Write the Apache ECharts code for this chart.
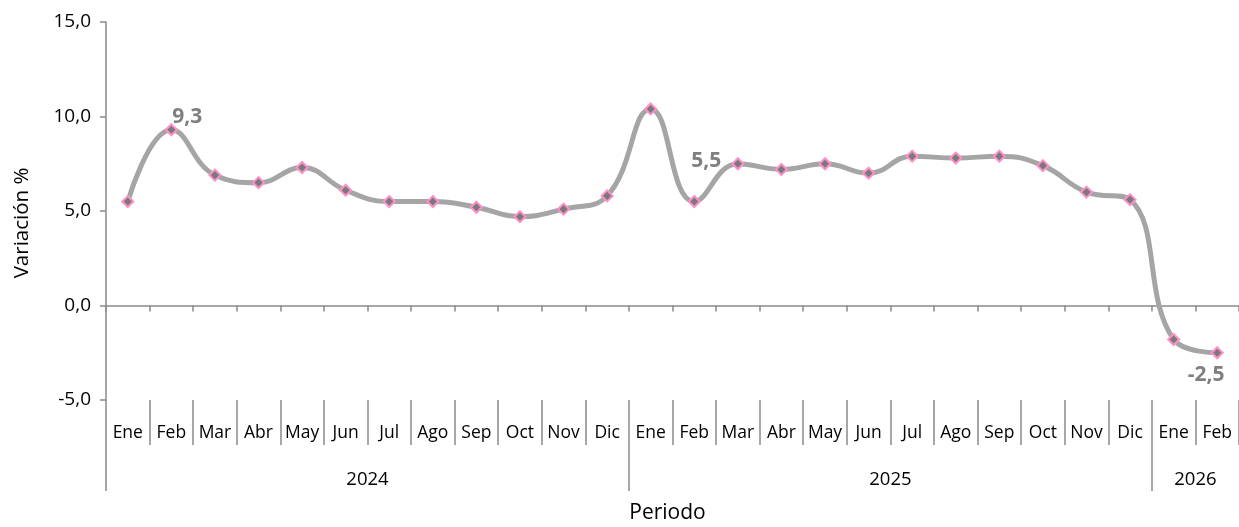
<!DOCTYPE html>
<html lang="es">
<head>
    <meta charset="UTF-8">
    <title>Variación %</title>
    <script src="https://cdn.jsdelivr.net/npm/echarts@6/dist/echarts.min.js"></script>
    <style>
        html, body { margin: 0; padding: 0; background: #fff; }
        #main { width: 1239px; height: 527px; }
    </style>
</head>
<body>
<div id="main"></div>
<script type="text/javascript">
    // datos
    var months = ['Ene','Feb','Mar','Abr','May','Jun','Jul','Ago','Sep','Oct','Nov','Dic',
                  'Ene','Feb','Mar','Abr','May','Jun','Jul','Ago','Sep','Oct','Nov','Dic',
                  'Ene','Feb'];
    var values = [5.5, 9.3, 6.9, 6.5, 7.3, 6.1, 5.5, 5.5, 5.2, 4.7, 5.1, 5.8,
                  10.4, 5.5, 7.5, 7.2, 7.5, 7.0, 7.9, 7.8, 7.9, 7.4, 6.0, 5.6,
                  -1.8, -2.5];
    var years = ['2024', '2025', '2026'];
    var yearStart = [0, 12, 24];   // primer mes de cada año
    var yearLen = [12, 12, 2];
    var labeled = [1, 13, 25];     // puntos con etiqueta
    var yTicks = [-5, 0, 5, 10, 15];

    var font = '"Open Sans", "Noto Sans", sans-serif';
    var axisGray = '#8a8a8a';

    function fmt(v) { return Number(v).toFixed(1).replace('.', ','); }

    // eje de años: media-posiciones (0, 0.5, ... 26)
    var halfSlots = [];
    for (var k = 0; k <= months.length * 2; k++) halfSlots.push(String(k));
    var yearTickSlots = yearStart.map(function (s) { return s * 2; });
    var yearLabelSlots = {};
    years.forEach(function (y, i) { yearLabelSlots[yearStart[i] * 2 + yearLen[i]] = y; });

    var labelOffsets = { 1: ['top', [16, 9]], 13: ['top', [12, -19]], 25: ['bottom', [-11, 0]] };
    var seriesData = values.map(function (v, i) {
        if (labeled.indexOf(i) < 0) return v;
        return {
            value: v,
            label: {
                show: true,
                position: labelOffsets[i][0],
                offset: labelOffsets[i][1],
                formatter: function (p) { return fmt(p.value); },
                color: '#7f7f7f',
                fontWeight: 'bold',
                fontSize: 21,
                fontFamily: font
            }
        };
    });

    var myChart = echarts.init(document.getElementById('main'));
    var option = {
        animation: false,
        grid: { left: 106, right: 0, top: 22, bottom: 127, outerBoundsMode: 'none' },
        xAxis: [
            {
                type: 'category',
                data: months,
                axisLine: { onZero: true, lineStyle: { color: axisGray, width: 1.5 } },
                axisTick: { show: true, interval: 0, length: 6, lineStyle: { color: axisGray, width: 1.5 } },
                axisLabel: { show: false },
                splitLine: { show: false }
            },
            {
                type: 'category',
                position: 'bottom',
                data: months,
                axisLine: { show: false, onZero: false },
                axisTick: { show: true, interval: 0, length: 45, lineStyle: { color: axisGray, width: 1.5 } },
                axisLabel: { interval: 0, margin: 24, fontSize: 17.5, color: '#000', fontFamily: font },
                splitLine: { show: false }
            },
            {
                type: 'category',
                position: 'bottom',
                data: halfSlots,
                boundaryGap: false,
                axisLine: { show: false, onZero: false },
                axisTick: {
                    show: true, length: 91, lineStyle: { color: axisGray, width: 1.5 },
                    interval: function (idx) { return yearTickSlots.indexOf(idx) >= 0; }
                },
                axisLabel: {
                    margin: 70, fontSize: 18.5, color: '#000', fontFamily: font,
                    interval: function (idx) { return yearLabelSlots[idx] !== undefined; },
                    formatter: function (v, idx) { return yearLabelSlots[idx] || ''; }
                },
                name: 'Periodo',
                nameLocation: 'middle',
                nameGap: 103,
                nameTextStyle: { fontSize: 21, color: '#000', fontFamily: font, padding: [0, 10, 0, 0] },
                splitLine: { show: false }
            }
        ],
        yAxis: {
            type: 'value',
            min: yTicks[0],
            max: yTicks[yTicks.length - 1],
            interval: yTicks[1] - yTicks[0],
            name: 'Variación %',
            nameLocation: 'middle',
            nameGap: 73,
            nameTextStyle: { fontSize: 20.5, color: '#000', fontFamily: font, padding: [0, 24, 0, 0] },
            axisLine: { show: true, lineStyle: { color: axisGray, width: 1.5 } },
            axisTick: { show: true, length: 6, lineStyle: { color: axisGray, width: 1.5 } },
            axisLabel: { fontSize: 19, color: '#000', margin: 15, fontFamily: font, formatter: fmt },
            splitLine: { show: false }
        },
        series: [
            {
                type: 'line',
                xAxisIndex: 0,
                data: seriesData,
                smooth: 0.45,
                symbol: 'diamond',
                symbolSize: 11,
                lineStyle: { color: '#a5a5a5', width: 5 },
                itemStyle: { color: '#7a7a7a', borderColor: '#ff8fcb', borderWidth: 2 },
                z: 3
            }
        ]
    };
    myChart.setOption(option);
</script>
</body>
</html>
